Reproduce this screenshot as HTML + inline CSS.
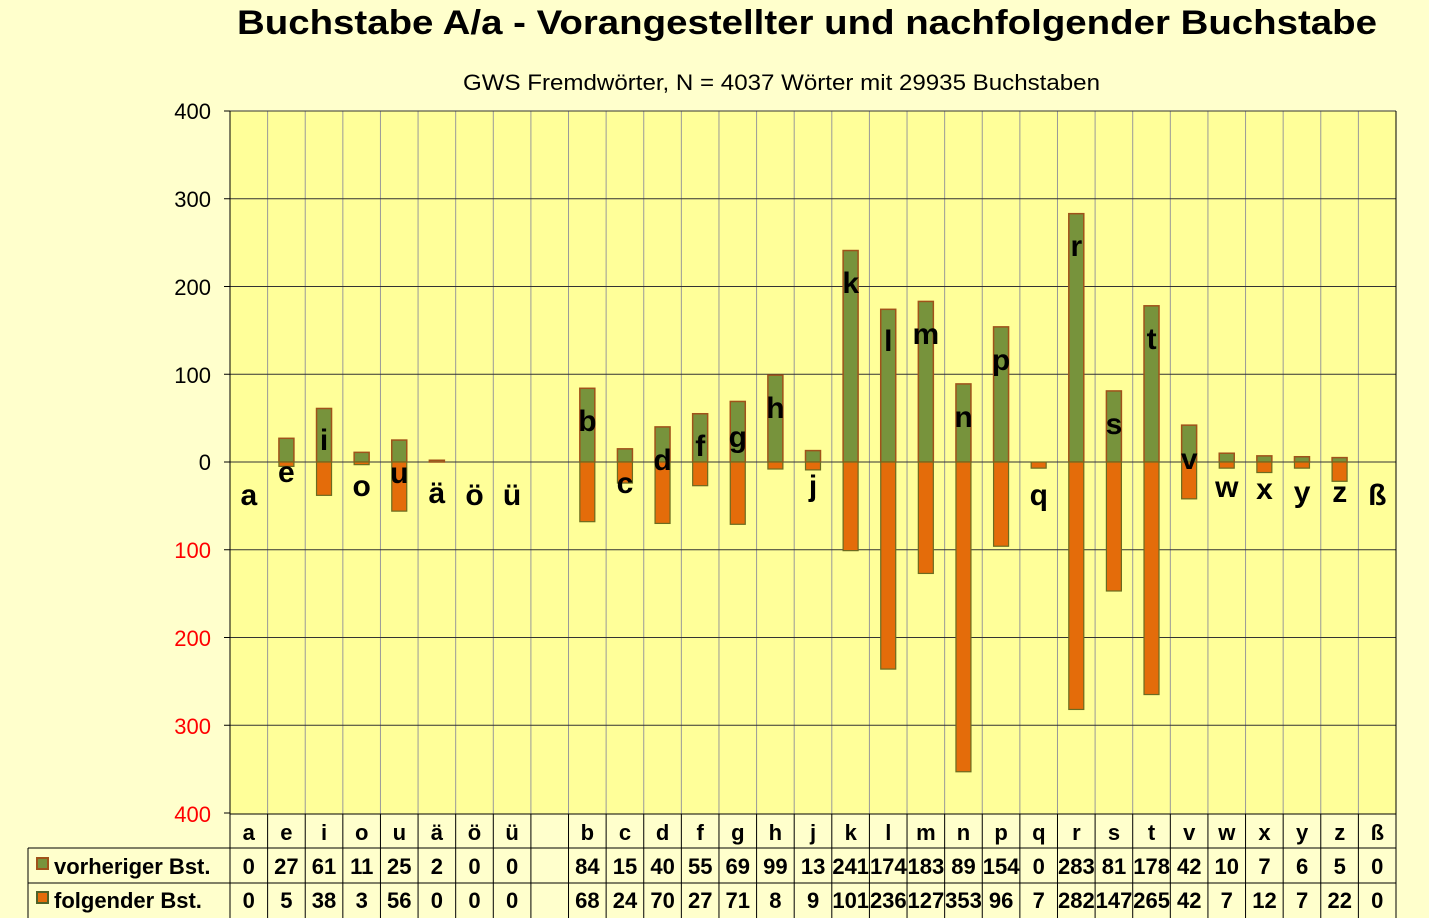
<!DOCTYPE html><html><head><meta charset="utf-8"><style>body{margin:0;background:#FFFFCC}svg{display:block}text{font-family:"Liberation Sans",Arial,sans-serif}</style></head><body>
<svg id="s" width="1429" height="918" xmlns="http://www.w3.org/2000/svg">
<rect width="1429" height="918" fill="#FFFFCC"/>
<rect x="230" y="111" width="1166" height="703" fill="#FFFF99"/>
<g id="g"></g>
<text x="237" y="34" font-size="34" font-weight="bold" textLength="1140" lengthAdjust="spacingAndGlyphs">Buchstabe A/a - Vorangestellter und nachfolgender Buchstabe</text>
<text x="463" y="90" font-size="22" textLength="637" lengthAdjust="spacingAndGlyphs">GWS Fremdwörter, N = 4037 Wörter mit 29935 Buchstaben</text>
<g font-size="22" text-anchor="end">
<text x="211" y="119">400</text><text x="211" y="207">300</text><text x="211" y="295">200</text><text x="211" y="383">100</text><text x="211" y="470">0</text>
<g fill="#FF0000"><text x="211" y="558">100</text><text x="211" y="646">200</text><text x="211" y="734">300</text><text x="211" y="822">400</text></g>
</g>
<g font-size="30" font-weight="bold" text-anchor="middle">
<text x="248.8" y="505">a</text><text x="286.4" y="482">e</text><text x="324" y="450">i</text><text x="361.7" y="496">o</text><text x="399.3" y="483">u</text><text x="436.9" y="503">ä</text><text x="474.5" y="505">ö</text><text x="512.1" y="505">ü</text>
<text x="587.4" y="431">b</text><text x="625" y="493">c</text><text x="662.6" y="470">d</text><text x="700.2" y="456">f</text><text x="737.8" y="447">g</text><text x="775.4" y="418">h</text><text x="813.1" y="496">j</text><text x="850.7" y="293">k</text><text x="888.3" y="351">l</text><text x="925.9" y="344">m</text><text x="963.5" y="427">n</text><text x="1001.1" y="370">p</text><text x="1038.8" y="505">q</text><text x="1076.4" y="256">r</text><text x="1114" y="434">s</text><text x="1151.6" y="349">t</text><text x="1189.2" y="469">v</text><text x="1226.8" y="497">w</text><text x="1264.5" y="499">x</text><text x="1302.1" y="502">y</text><text x="1339.7" y="502">z</text><text x="1377.3" y="505">ß</text>
</g>
<g font-size="22" font-weight="bold" text-anchor="middle">
<text x="248.8" y="840">a</text><text x="286.4" y="840">e</text><text x="324" y="840">i</text><text x="361.7" y="840">o</text><text x="399.3" y="840">u</text><text x="436.9" y="840">ä</text><text x="474.5" y="840">ö</text><text x="512.1" y="840">ü</text>
<text x="587.4" y="840">b</text><text x="625" y="840">c</text><text x="662.6" y="840">d</text><text x="700.2" y="840">f</text><text x="737.8" y="840">g</text><text x="775.4" y="840">h</text><text x="813.1" y="840">j</text><text x="850.7" y="840">k</text><text x="888.3" y="840">l</text><text x="925.9" y="840">m</text><text x="963.5" y="840">n</text><text x="1001.1" y="840">p</text><text x="1038.8" y="840">q</text><text x="1076.4" y="840">r</text><text x="1114" y="840">s</text><text x="1151.6" y="840">t</text><text x="1189.2" y="840">v</text><text x="1226.8" y="840">w</text><text x="1264.5" y="840">x</text><text x="1302.1" y="840">y</text><text x="1339.7" y="840">z</text><text x="1377.3" y="840">ß</text>
<text x="248.8" y="874">0</text><text x="286.4" y="874">27</text><text x="324" y="874">61</text><text x="361.7" y="874">11</text><text x="399.3" y="874">25</text><text x="436.9" y="874">2</text><text x="474.5" y="874">0</text><text x="512.1" y="874">0</text>
<text x="587.4" y="874">84</text><text x="625" y="874">15</text><text x="662.6" y="874">40</text><text x="700.2" y="874">55</text><text x="737.8" y="874">69</text><text x="775.4" y="874">99</text><text x="813.1" y="874">13</text><text x="850.7" y="874">241</text><text x="888.3" y="874">174</text><text x="925.9" y="874">183</text><text x="963.5" y="874">89</text><text x="1001.1" y="874">154</text><text x="1038.8" y="874">0</text><text x="1076.4" y="874">283</text><text x="1114" y="874">81</text><text x="1151.6" y="874">178</text><text x="1189.2" y="874">42</text><text x="1226.8" y="874">10</text><text x="1264.5" y="874">7</text><text x="1302.1" y="874">6</text><text x="1339.7" y="874">5</text><text x="1377.3" y="874">0</text>
<text x="248.8" y="908">0</text><text x="286.4" y="908">5</text><text x="324" y="908">38</text><text x="361.7" y="908">3</text><text x="399.3" y="908">56</text><text x="436.9" y="908">0</text><text x="474.5" y="908">0</text><text x="512.1" y="908">0</text>
<text x="587.4" y="908">68</text><text x="625" y="908">24</text><text x="662.6" y="908">70</text><text x="700.2" y="908">27</text><text x="737.8" y="908">71</text><text x="775.4" y="908">8</text><text x="813.1" y="908">9</text><text x="850.7" y="908">101</text><text x="888.3" y="908">236</text><text x="925.9" y="908">127</text><text x="963.5" y="908">353</text><text x="1001.1" y="908">96</text><text x="1038.8" y="908">7</text><text x="1076.4" y="908">282</text><text x="1114" y="908">147</text><text x="1151.6" y="908">265</text><text x="1189.2" y="908">42</text><text x="1226.8" y="908">7</text><text x="1264.5" y="908">12</text><text x="1302.1" y="908">7</text><text x="1339.7" y="908">22</text><text x="1377.3" y="908">0</text>
</g>
<g font-size="22" font-weight="bold">
<rect x="37" y="858" width="11" height="11" fill="#77933C" stroke="#A0521A" stroke-width="2"/><text x="54" y="874">vorheriger Bst.</text>
<rect x="37" y="892" width="11" height="11" fill="#E46C0A" stroke="#4F6228" stroke-width="2"/><text x="54" y="908">folgender Bst.</text>
</g>
</svg>
<script>
var g=document.getElementById('g'),ns='http://www.w3.org/2000/svg';
function el(t,a){var e=document.createElementNS(ns,t);for(var k in a)e.setAttribute(k,a[k]);g.appendChild(e);}
var w=1166/31,y0=462,sc=351/400;
for(var i=1;i<31;i++){var x=230+w*i;el('line',{x1:x,y1:111,x2:x,y2:814,stroke:'#999',"stroke-width":1});}
for(var v=-300;v<=400;v+=100){var y=y0-v*sc;el('line',{x1:230,y1:y,x2:1396,y2:y,stroke:'#333',"stroke-width":1});}
el('line',{x1:230,y1:111,x2:230,y2:918,stroke:'#000'});
for(var v=-400;v<=400;v+=100){var y=y0-v*sc;el('line',{x1:224,y1:y,x2:230,y2:y,stroke:'#000'});}
var A=[0,27,61,11,25,2,0,0,null,84,15,40,55,69,99,13,241,174,183,89,154,0,283,81,178,42,10,7,6,5,0];
var B=[0,5,38,3,56,0,0,0,null,68,24,70,27,71,8,9,101,236,127,353,96,7,282,147,265,42,7,12,7,22,0];
for(var i=0;i<31;i++){if(A[i]==null)continue;var cx=230+w*(i+0.5);
if(A[i]>0)el('rect',{x:cx-7.5,y:y0-A[i]*sc,width:15,height:A[i]*sc,fill:'#77933C',stroke:'#A0521A',"stroke-width":1.5});
if(B[i]>0)el('rect',{x:cx-7.5,y:y0,width:15,height:B[i]*sc,fill:'#E46C0A',stroke:'#6B6B20',"stroke-width":1.2});}
el('line',{x1:230,y1:814,x2:1396,y2:814,stroke:'#000'});
el('line',{x1:28,y1:848,x2:1396,y2:848,stroke:'#000'});
el('line',{x1:28,y1:883,x2:1396,y2:883,stroke:'#000'});
el('line',{x1:28,y1:848,x2:28,y2:918,stroke:'#000'});
el('line',{x1:1396,y1:111,x2:1396,y2:918,stroke:'#000'});
for(var i=1;i<31;i++){var x=230+w*i;el('line',{x1:x,y1:814,x2:x,y2:918,stroke:'#000'});}
</script>
</body></html>
